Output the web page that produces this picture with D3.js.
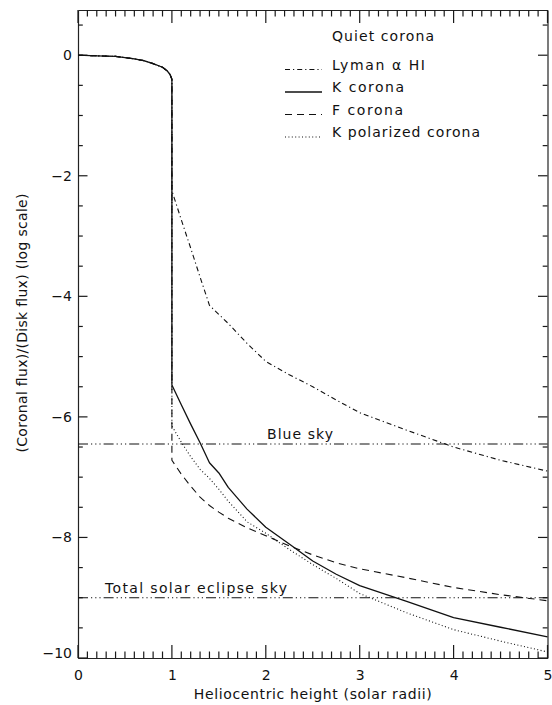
<!DOCTYPE html>
<html>
<head>
<meta charset="utf-8">
<script src="https://cdn.jsdelivr.net/npm/d3@7"></script>
<style>
  html, body { margin: 0; padding: 0; background: #fff; }
  svg text { font-family: "DejaVu Sans", sans-serif; fill: #111; }
</style>
</head>
<body>
<div id="chart"></div>
<script>
// ---------- data ----------
const xDisk = [0, 0.2, 0.4, 0.5, 0.6, 0.7, 0.8, 0.9, 0.95, 0.98, 1.0];
const yDisk = [0, -0.01, -0.02, -0.04, -0.06, -0.09, -0.14, -0.2, -0.26, -0.32, -0.4];

const xCorona = [1.0, 1.1, 1.2, 1.3, 1.4, 1.5, 1.6, 1.8, 2.0, 2.25, 2.5, 2.75, 3.0, 3.5, 4.0, 4.5, 5.0];
const lymanAlpha = [-2.25, -2.73, -3.2, -3.68, -4.15, -4.3, -4.45, -4.78, -5.08, -5.3, -5.5, -5.72, -5.93, -6.22, -6.5, -6.72, -6.9];
const kCorona    = [-5.47, -5.8, -6.12, -6.43, -6.76, -6.93, -7.17, -7.53, -7.83, -8.11, -8.39, -8.61, -8.8, -9.06, -9.33, -9.49, -9.65];
const fCorona    = [-6.72, -6.95, -7.15, -7.33, -7.47, -7.58, -7.68, -7.84, -7.97, -8.14, -8.29, -8.42, -8.52, -8.67, -8.83, -8.95, -9.05];
const kPolarized = [-6.15, -6.42, -6.66, -6.87, -7.02, -7.2, -7.4, -7.74, -7.93, -8.2, -8.45, -8.68, -8.93, -9.25, -9.53, -9.72, -9.9];

const seriesNames = ["Lyman \u03B1 HI", "K corona", "F corona", "K polarized corona"];
const legendTitle = "Quiet corona";

const skyNames  = ["Blue sky", "Total solar eclipse sky"];
const skyLevels = [-6.45, -9.0];

const xTickValues = [0, 1, 2, 3, 4, 5];
const xTickLabels = ["0", "1", "2", "3", "4", "5"];
const yTickValues = [0, -2, -4, -6, -8, -10];
const yTickLabels = ["0", "\u22122", "\u22124", "\u22126", "\u22128", "\u221210"];

const xTitle = "Heliocentric height (solar radii)";
const yTitle = "(Coronal flux)/(Disk flux) (log scale)";

// ---------- layout ----------
const W = 552, H = 705;
const mLeft = 78, mRight = 547.5, mTop = 10, mBottom = 658;

const x = d3.scaleLinear().domain([0, 5]).range([mLeft, mRight]);
const y = d3.scaleLinear().domain([-10, 0.75]).range([mBottom, mTop]);

const svg = d3.select("#chart").append("svg")
  .attr("width", W).attr("height", H);

const styles = [
  {dash: "5,3,1.2,3", width: 1.1},   // Lyman alpha: dash-dot
  {dash: null, width: 1.3},          // K corona: solid
  {dash: "7,5", width: 1.1},         // F corona: dashed
  {dash: "1,2.4", width: 1.1}        // K polarized: dotted
];
const skyDash = "10,3,1.2,3,1.2,3,1.2,3";

// ---------- axes (IDL style, ticks inward on all 4 sides) ----------
const xMajorLen = 13, xMinorLen = 6.5, yMajorLen = 9.5, yMinorLen = 4.8;
const xMinor = d3.range(1, 50).filter(v => v % 10 !== 0).map(v => v / 10);
const yMinor = d3.range(-10, 0.7501, 0.5).filter(v => v % 2 !== 0);

const axes = svg.append("g").attr("class", "axes");
const axB = axes.append("g").attr("transform", `translate(0,${mBottom})`)
  .call(d3.axisBottom(x).tickValues(xTickValues).tickSize(0).tickPadding(12)
    .tickFormat((d, i) => xTickLabels[i]));
axes.append("g").attr("transform", `translate(0,${mTop})`)
  .call(d3.axisTop(x).tickValues([]).tickSize(0));
const axL = axes.append("g").attr("transform", `translate(${mLeft},0)`)
  .call(d3.axisLeft(y).tickValues(yTickValues).tickSize(0).tickPadding(6)
    .tickFormat((d, i) => yTickLabels[i]));
axes.append("g").attr("transform", `translate(${mRight},0)`)
  .call(d3.axisRight(y).tickValues([]).tickSize(0));

axes.selectAll(".domain").attr("stroke", "#222").attr("stroke-width", 1.2);
axes.selectAll(".tick text").attr("font-size", 14).attr("font-family", "DejaVu Sans").attr("fill", "#111");
axL.selectAll(".tick text").filter(d => d === -10).attr("dy", "-0.05em");

// inward tick marks, positioned with the scales
const xTicksAll = xTickValues.map(v => ({v, len: xMajorLen})).concat(xMinor.map(v => ({v, len: xMinorLen})));
const yTicksAll = yTickValues.map(v => ({v, len: yMajorLen})).concat(yMinor.map(v => ({v, len: yMinorLen})));
const tickG = svg.append("g").attr("stroke", "#1a1a1a").attr("stroke-width", 1.2);
[mBottom, mTop].forEach((edge, k) => {
  tickG.selectAll(null).data(xTicksAll).join("line")
    .attr("x1", d => x(d.v)).attr("x2", d => x(d.v))
    .attr("y1", edge).attr("y2", d => k === 0 ? edge - d.len : edge + d.len);
});
[mLeft, mRight].forEach((edge, k) => {
  tickG.selectAll(null).data(yTicksAll).join("line")
    .attr("y1", d => y(d.v)).attr("y2", d => y(d.v))
    .attr("x1", edge).attr("x2", d => k === 0 ? edge + d.len : edge - d.len);
});

// ---------- curves ----------
const line = d3.line().x(d => x(d[0])).y(d => y(d[1]));
const allSeries = [lymanAlpha, kCorona, fCorona, kPolarized];
const plot = svg.append("g");
allSeries.forEach((vals, i) => {
  const pts = xDisk.map((xv, j) => [xv, yDisk[j]]).concat(xCorona.map((xv, j) => [xv, vals[j]]));
  plot.append("path").datum(pts)
    .attr("d", line)
    .attr("fill", "none")
    .attr("stroke", "#111")
    .attr("stroke-width", styles[i].width)
    .attr("stroke-dasharray", styles[i].dash)
    .attr("stroke-linejoin", "round");
});

// ---------- sky levels ----------
const skyLabelPos = [{xc: 300, anchor: "middle"}, {xc: 105, anchor: "start"}];
const skyLabelLen = [66, 182];
skyLevels.forEach((lv, i) => {
  plot.append("line")
    .attr("x1", x(0)).attr("x2", x(5))
    .attr("y1", y(lv)).attr("y2", y(lv))
    .attr("stroke", "#111").attr("stroke-width", 1.1)
    .attr("stroke-dasharray", skyDash);
  svg.append("text")
    .attr("x", skyLabelPos[i].xc).attr("y", y(lv) - 5)
    .attr("text-anchor", skyLabelPos[i].anchor)
    .attr("font-size", 14)
    .attr("textLength", skyLabelLen[i]).attr("lengthAdjust", "spacing")
    .text(skyNames[i]);
});

// ---------- legend ----------
const lg = svg.append("g");
lg.append("text").attr("x", 332).attr("y", 40.5).attr("font-size", 14)
  .attr("textLength", 102).attr("lengthAdjust", "spacing").text(legendTitle);
const legBase = [69.5, 92, 114.5, 137];
const legLen = [93, 72, 71, 148];
seriesNames.forEach((nm, i) => {
  lg.append("line").attr("x1", 285).attr("x2", 322)
    .attr("y1", legBase[i]).attr("y2", legBase[i])
    .attr("stroke", "#111").attr("stroke-width", styles[i].width)
    .attr("stroke-dasharray", styles[i].dash);
  lg.append("text").attr("x", 332).attr("y", legBase[i]).attr("font-size", 14)
    .attr("textLength", legLen[i]).attr("lengthAdjust", "spacing").text(nm);
});

// ---------- titles ----------
svg.append("text").attr("x", (mLeft + mRight) / 2).attr("y", 699)
  .attr("text-anchor", "middle").attr("font-size", 14)
  .attr("textLength", 238).attr("lengthAdjust", "spacing").text(xTitle);
svg.append("text").attr("transform", `translate(27,${323}) rotate(-90)`)
  .attr("text-anchor", "middle").attr("font-size", 14)
  .attr("textLength", 259).attr("lengthAdjust", "spacing").text(yTitle);
</script>
</body>
</html>
